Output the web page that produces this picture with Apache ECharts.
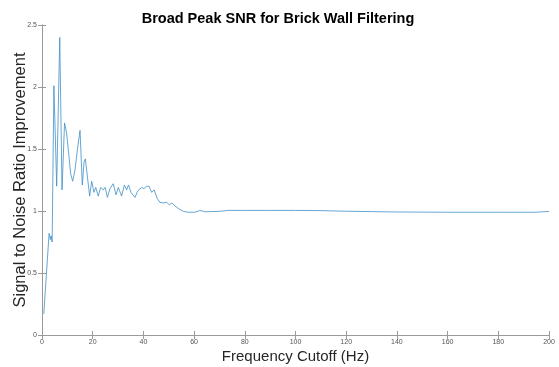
<!DOCTYPE html>
<html>
<head>
<meta charset="utf-8">
<script src="https://cdn.jsdelivr.net/npm/echarts@6/dist/echarts.min.js"></script>
<style>
  html, body { margin: 0; padding: 0; background: #ffffff; }
  #chart { width: 559px; height: 367px; }
</style>
</head>
<body>
<div id="chart"></div>
<script>
// Cutoff frequencies (Hz) and the SNR improvement measured at each
const cutoffHz = [
  0.7, 2.8, 3.3, 3.6, 4.0, 4.7, 5.8, 7.0, 7.9, 8.9,
  9.7, 10.6, 11.3, 12.1, 13.0, 14.0, 15.0, 15.9, 16.6, 17.1,
  17.6, 18.8, 19.6, 20.5, 21.2, 22.2, 23.1, 24.2, 24.9, 25.8,
  26.8, 28.1, 29.2, 30.1, 30.8, 31.4, 32.5, 33.4, 34.1, 35.1,
  36.7, 37.7, 39.3, 40.2, 41.3, 42.2, 43.3, 44.2, 45.5, 46.5,
  47.9, 49.2, 50.2, 51.2, 52.5, 53.8, 55.8, 57.7, 60.4, 62.1,
  63.4, 64.3, 66.0, 70.0, 73.5, 80.0, 90.0, 100.0, 110.0, 120.0,
  130.0, 140.0, 160.0, 180.0, 195.0, 200.0
];
const snrImprovement = [
  0.17, 0.82, 0.77, 0.80, 0.75, 2.01, 1.20, 2.40, 1.17, 1.71,
  1.63, 1.45, 1.30, 1.24, 1.33, 1.50, 1.65, 1.21, 1.40, 1.42,
  1.42, 1.12, 1.24, 1.15, 1.19, 1.12, 1.19, 1.17, 1.19, 1.11,
  1.18, 1.22, 1.13, 1.19, 1.20, 1.12, 1.21, 1.17, 1.21, 1.15,
  1.11, 1.16, 1.19, 1.18, 1.20, 1.20, 1.15, 1.17, 1.10, 1.07,
  1.065, 1.07, 1.05, 1.065, 1.04, 1.02, 0.997, 0.99, 0.99, 1.003,
  1.0, 0.993, 0.995, 0.997, 1.005, 1.005, 1.005, 1.005, 1.003, 0.998,
  0.995, 0.992, 0.99, 0.99, 0.99, 0.997
];

// Axis tick values
const xTicks = [0, 20, 40, 60, 80, 100, 120, 140, 160, 180, 200];
const yTicks = [0, 0.5, 1, 1.5, 2, 2.5];

const points = cutoffHz.map((f, i) => [f, snrImprovement[i]]);

const axisGrey = '#9a9a9a';
const labelGrey = '#555555';
const font = '"Liberation Sans", Arial, Helvetica, sans-serif';

const chart = echarts.init(document.getElementById('chart'), null, { renderer: 'canvas' });

const boxAxis = {
  axisLine: { show: true, lineStyle: { color: axisGrey, width: 1 } },
  axisTick: { show: true, inside: true, length: 4, lineStyle: { color: axisGrey } },
  splitLine: { show: false }
};

chart.setOption({
  backgroundColor: '#ffffff',
  animation: false,
  title: {
    text: 'Broad Peak SNR for Brick Wall Filtering',
    left: 273,
    textAlign: 'center',
    top: 6,
    textStyle: { fontFamily: font, fontSize: 14.5, fontWeight: 'bold', color: '#000000' }
  },
  grid: { left: 42, right: 10, top: 25, bottom: 32, containLabel: false, outerBoundsMode: 'none' },
  xAxis: [
    Object.assign({}, boxAxis, {
      type: 'value', position: 'bottom',
      min: xTicks[0], max: xTicks[xTicks.length - 1], interval: 20,
      name: 'Frequency Cutoff (Hz)', nameLocation: 'middle', nameGap: 14,
      nameMoveOverlap: false,
      nameTextStyle: { fontFamily: font, fontSize: 15, color: '#262626' },
      axisLabel: { fontFamily: font, fontSize: 7, color: labelGrey, margin: 4 }
    }),
    Object.assign({}, boxAxis, {
      type: 'value', position: 'top',
      min: xTicks[0], max: xTicks[xTicks.length - 1], interval: 20,
      axisLabel: { show: false }
    })
  ],
  yAxis: [
    Object.assign({}, boxAxis, {
      type: 'value', position: 'left',
      min: yTicks[0], max: yTicks[yTicks.length - 1], interval: 0.5,
      name: 'Signal to Noise Ratio Improvement', nameLocation: 'middle', nameGap: 13,
      nameMoveOverlap: false,
      nameTextStyle: { fontFamily: font, fontSize: 16.5, color: '#262626' },
      axisLabel: { fontFamily: font, fontSize: 7, color: labelGrey, margin: 5 }
    }),
    Object.assign({}, boxAxis, {
      type: 'value', position: 'right',
      min: yTicks[0], max: yTicks[yTicks.length - 1], interval: 0.5,
      axisLabel: { show: false }
    })
  ],
  series: [{
    type: 'line',
    data: points,
    xAxisIndex: 0,
    yAxisIndex: 0,
    showSymbol: false,
    symbol: 'none',
    smooth: false,
    lineStyle: { color: '#3f8fc6', width: 0.8 }
  }]
});
</script>
</body>
</html>
